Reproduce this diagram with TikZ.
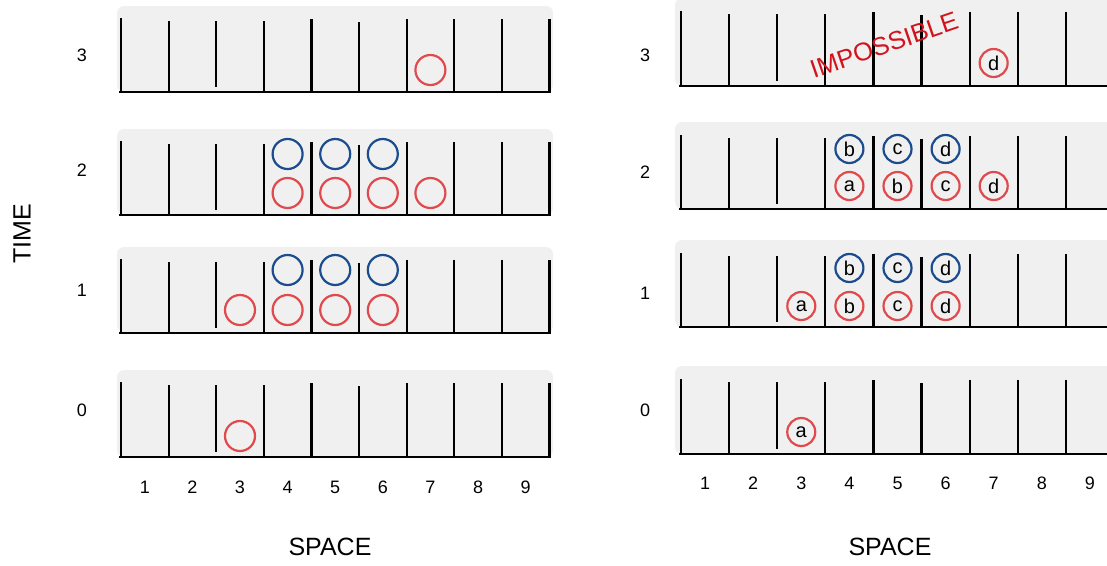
\documentclass[tikz,border=0pt]{standalone}
\usepackage{fontspec}
\setmainfont{Liberation Sans}
\usetikzlibrary{positioning, calc}
\definecolor{cRed}{HTML}{E04A4C}
\definecolor{cBlue}{HTML}{1A4C8E}
\definecolor{cShelf}{HTML}{F0F0F0}
\definecolor{cStamp}{HTML}{D2121C}
\tikzset{
  shelf/.style={fill=cShelf, draw=none, rounded corners=7pt},
  wall/.style={line width=2.2pt, draw=black},
  floorline/.style={line width=2.5pt, draw=black},
  particle/.style={
    circle, draw=#1, line width=2.2pt,
    minimum size=30pt, inner sep=0pt
  },
  tagged/.style={
    circle, draw=#1, line width=2.2pt,
    minimum size=28pt, inner sep=0pt,
    text=black, font=\fontsize{20}{20}\selectfont
  },
  tick/.style={inner sep=0pt, font=\fontsize{18}{18}\selectfont},
  axis/.style={inner sep=0pt, font=\fontsize{25}{25}\selectfont},
  stamp/.style={inner sep=0pt, text=cStamp, font=\fontsize{25.5}{25.5}\selectfont}
}

\begin{document}
\begin{tikzpicture}[x=1pt, y=-1pt]
  \useasboundingbox[fill=white] (0,0) rectangle (1107,565);

  % left: shelves, walls and floor of each time row
  \foreach \r/\yb/\yt/\yl in {3/92/19/55, 2/215/142/170, 1/333/260/290, 0/457/383/410} {
    \fill[shelf] (117,\yt-13) rectangle (553,\yb);
    \foreach \i/\u/\s in {0/-1/0,1/2/0,2/2/5,3/2/0,4/0/0,5/3/0,6/0/0,7/0/0,8/0/0,9/0/0}
      \draw[wall] (121+47.6*\i,\yt+\u) -- (121+47.6*\i,\yb-\s);
    \draw[floorline] (119,\yb) -- (551,\yb);
    \node[tick] (Lt\r) at (82,\yl) {\r};
  }
  \foreach \c in {1,...,9}
    \node[tick] (Lx\c) at (121+47.6*\c-23.8,487) {\c};

  % left: particles
  \node[particle=cRed] (L3r7) at (121+47.6*6.5,70) {};
  \foreach \c in {4,5,6}
    \node[particle=cBlue] (L2b\c) at (121+47.6*\c-23.8,154) {};
  \foreach \c in {4,5,6,7}
    \node[particle=cRed] (L2r\c) at (121+47.6*\c-23.8,193) {};
  \foreach \c in {4,5,6}
    \node[particle=cBlue] (L1b\c) at (121+47.6*\c-23.8,270) {};
  \foreach \c in {3,4,5,6}
    \node[particle=cRed] (L1r\c) at (121+47.6*\c-23.8,310) {};
  \node[particle=cRed] (L0r3) at (121+47.6*2.5,436) {};

  \node[axis, rotate=90] (time) at (22,234) {TIME};
  \node[axis] (spaceL) at (330,547) {SPACE};

  % right: shelves, walls and floor of each time row
  \foreach \r/\yb/\yt/\yl in {3/86/12/55, 2/209/136/172, 1/327/254/293, 0/454/380/410} {
    \fill[shelf] (675,\yt-14) rectangle (1115,\yb);
    \foreach \i/\u/\s in {0/-1/0,1/2/0,2/2/5,3/2/0,4/0/0,5/3/0,6/0/0,7/0/0,8/0/0}
      \draw[wall] (681+48.1*\i,\yt+\u) -- (681+48.1*\i,\yb-\s);
    \draw[floorline] (679,\yb) -- (1110,\yb);
    \node[tick] (Rt\r) at (645,\yl) {\r};
  }
  \draw[wall] (681+48.1*9,380) -- (681+48.1*9,454);
  \foreach \c in {1,...,9}
    \node[tick] (Rx\c) at (681+48.1*\c-24,483) {\c};

  % right: labelled particles
  \node[tagged=cRed] (R3rd) at (681+48.1*6.5,63) {d};
  \foreach \c/\t in {4/b,5/c,6/d}
    \node[tagged=cBlue] (R2b\t) at (681+48.1*\c-24,149) {\t};
  \foreach \c/\t in {4/a,5/b,6/c,7/d}
    \node[tagged=cRed] (R2r\t) at (681+48.1*\c-24,186) {\t};
  \foreach \c/\t in {4/b,5/c,6/d}
    \node[tagged=cBlue] (R1b\t) at (681+48.1*\c-24,268) {\t};
  \foreach \c/\t in {3/a,4/b,5/c,6/d}
    \node[tagged=cRed] (R1r\t) at (681+48.1*\c-24,306) {\t};
  \node[tagged=cRed] (R0ra) at (681+48.1*2.5,432) {a};

  \node[stamp, rotate=19] (impossible) at (884,45) {IMPOSSIBLE};
  \node[axis] (spaceR) at (890,547) {SPACE};
\end{tikzpicture}
\end{document}
